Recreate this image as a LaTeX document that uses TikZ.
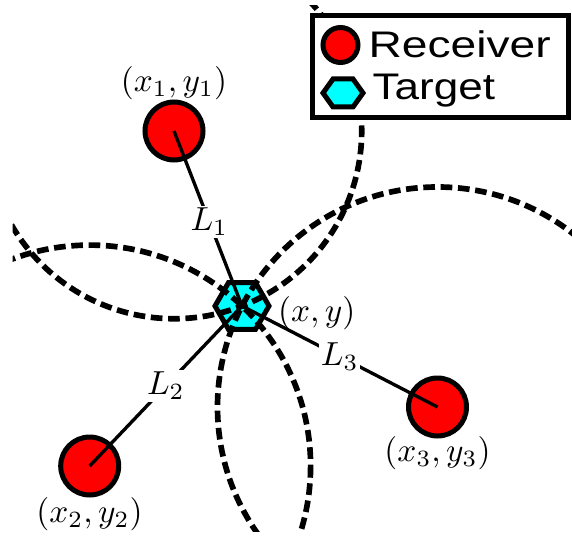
\documentclass[tikz,border=0pt]{standalone}
\usepackage{fontspec}
\usepackage{graphicx}
\newfontfamily\legendfont{Liberation Sans}
\usetikzlibrary{shapes.geometric}
\definecolor{rxred}{RGB}{255,0,0}
\definecolor{tgcyan}{RGB}{0,255,255}
\begin{document}
\begin{tikzpicture}[x=0.3pt,y=-0.3pt,
  receiver/.style={circle, draw=black, fill=rxred, line width=1.5pt, minimum size=17.4pt, inner sep=0pt},
  target/.style={regular polygon, regular polygon sides=6, draw=black, fill=tgcyan, line width=1.5pt, minimum size=16.2pt, inner sep=0pt},
  rangecircle/.style={line width=1.7pt, dash pattern=on 3.5pt off 1.7pt},
  link/.style={line width=1pt},
  lenlbl/.style={fill=white, inner sep=0.5pt, font=\fontsize{10}{12}\selectfont},
  coordlbl/.style={anchor=base, inner sep=0pt, font=\fontsize{10}{12}\selectfont},
  legendframe/.style={draw=black, fill=white, line width=1.5pt},
  legendtext/.style={anchor=base west, inner sep=0pt, font=\legendfont\fontsize{11.1}{13}\selectfont}
]
\useasboundingbox (0,0) rectangle (572,536);

% receivers and the target
\node[receiver] (r1) at (174,131) {};
\node[receiver] (r2) at (89.7,466) {};
\node[receiver] (r3) at (437.5,407) {};
\node[target] (tg) at (242,306) {};

% range circles around each receiver, through the target
\begin{scope}
  \clip (12.5,6) rectangle (572,531);
  \draw[rangecircle] (r1.center) ++(150:187.7) arc[start angle=150, end angle=-45, radius=187.7];
  \draw[rangecircle] (r2.center) circle[radius=220.9];
  \draw[rangecircle] (r3.center) circle[radius=220];
\end{scope}

% distances receiver -> target
\draw[link] (r1.center) -- node[lenlbl, pos=0.52] (l1) {$L_1$} (tg.center);
\draw[link] (r2.center) -- node[lenlbl, pos=0.5] (l2) {$L_2$} (tg.center);
\draw[link] (r3.center) -- node[lenlbl, pos=0.5] (l3) {$L_3$} (tg.center);

% position labels
\node[coordlbl] (p1) at (174,92) {$(x_1,y_1)$};
\node[coordlbl] (p2) at (89.5,522) {$(x_2,y_2)$};
\node[coordlbl] (p3) at (437.5,461.5) {$(x_3,y_3)$};
\node[coordlbl] (pt) at (316.7,321.5) {$(x,y)$};

% legend
\draw[legendframe] (312.5,15.5) rectangle (568.5,117.5);
\node[receiver, minimum size=10.5pt] (legrx) at (340.5,45) {};
\draw[line width=1.5pt, fill=tgcyan, line join=miter]
  (323,93) -- (333,79) -- (353,79) -- (363,93) -- (353,107) -- (333,107) -- cycle;
\node[legendtext] (legrxtxt) at (368,57.7) {\scalebox{1.247}[1]{Receiver}};
\node[legendtext] (legtgtxt) at (372,99.3) {\scalebox{1.19}[1]{Target}};
\end{tikzpicture}
\end{document}
